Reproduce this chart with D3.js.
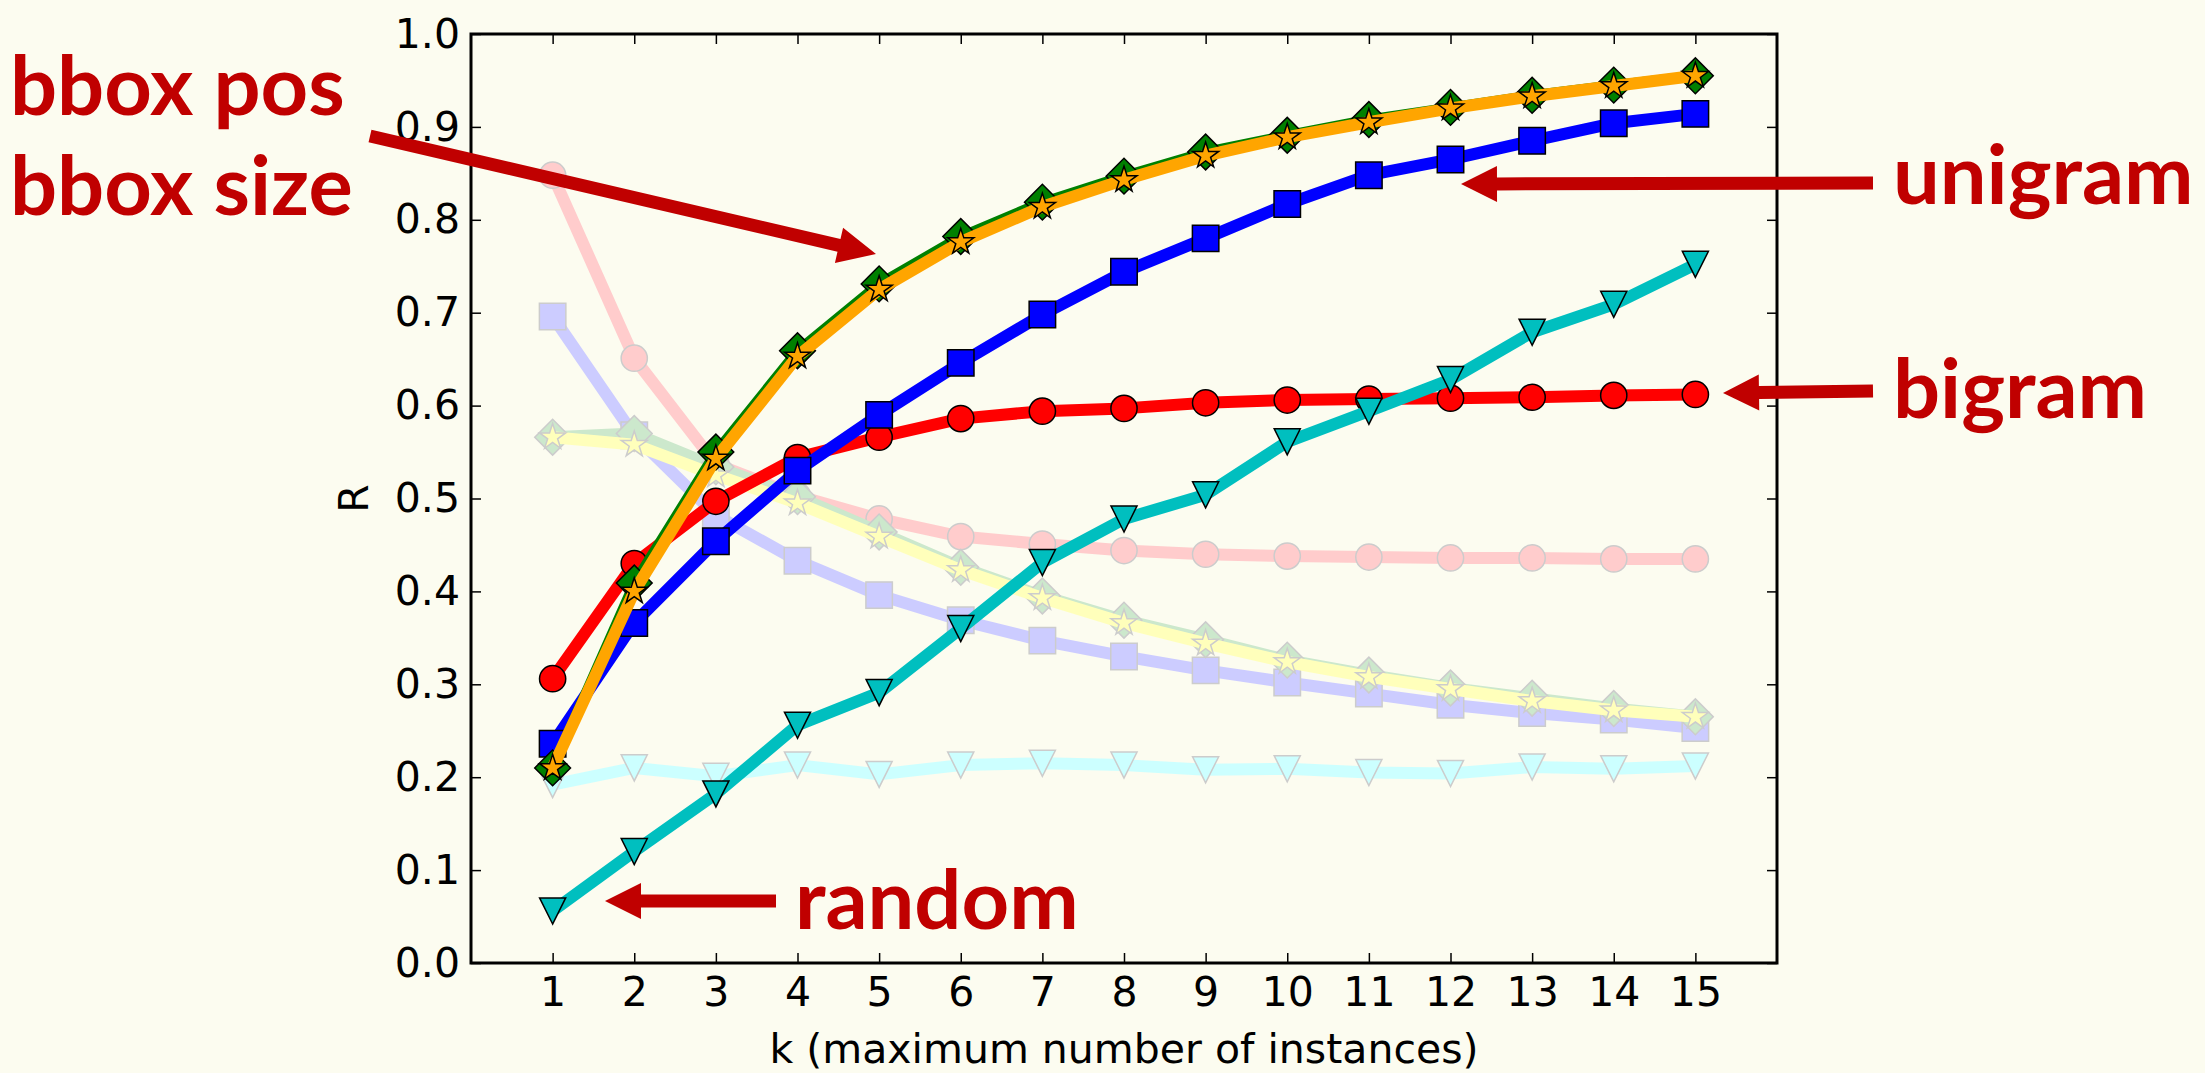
<!DOCTYPE html>
<html>
<head>
<meta charset="utf-8">
<script src="https://cdn.jsdelivr.net/npm/d3@7"></script>
<style>
  body { margin: 0; background: #fcfcf0; }
  svg { display: block; }
</style>
</head>
<body>
<div id="chart"></div>
<script>
// k values (x axis) and tick values
const ks = [1, 2, 3, 4, 5, 6, 7, 8, 9, 10, 11, 12, 13, 14, 15];
const yTicks = [0, 0.1, 0.2, 0.3, 0.4, 0.5, 0.6, 0.7, 0.8, 0.9, 1.0];

// bright series
const bigram   = [0.306, 0.430, 0.497, 0.544, 0.566, 0.586, 0.594, 0.597, 0.603, 0.606, 0.607, 0.608, 0.609, 0.611, 0.612];
const unigram  = [0.236, 0.366, 0.454, 0.530, 0.590, 0.646, 0.698, 0.744, 0.780, 0.817, 0.848, 0.865, 0.885, 0.904, 0.914];
const random   = [0.056, 0.120, 0.182, 0.256, 0.291, 0.360, 0.431, 0.478, 0.504, 0.561, 0.594, 0.628, 0.679, 0.709, 0.752];
const bboxPos  = [0.210, 0.409, 0.550, 0.659, 0.731, 0.782, 0.819, 0.847, 0.873, 0.891, 0.908, 0.921, 0.934, 0.945, 0.955];
const bboxSize = [0.210, 0.400, 0.543, 0.653, 0.725, 0.776, 0.814, 0.843, 0.869, 0.889, 0.905, 0.920, 0.933, 0.944, 0.955];

// faded series
const bigramFaded   = [0.848, 0.651, 0.537, 0.503, 0.478, 0.459, 0.451, 0.444, 0.440, 0.438, 0.437, 0.436, 0.436, 0.435, 0.435];
const unigramFaded  = [0.696, 0.568, 0.482, 0.433, 0.396, 0.369, 0.347, 0.330, 0.315, 0.302, 0.290, 0.278, 0.269, 0.262, 0.253];
const randomFaded   = [0.192, 0.210, 0.201, 0.213, 0.203, 0.213, 0.215, 0.213, 0.208, 0.209, 0.205, 0.204, 0.211, 0.209, 0.212];
const bboxPosFaded  = [0.566, 0.570, 0.534, 0.502, 0.464, 0.426, 0.395, 0.369, 0.348, 0.326, 0.310, 0.296, 0.285, 0.274, 0.265];
const bboxSizeFaded = [0.566, 0.558, 0.525, 0.495, 0.459, 0.423, 0.393, 0.366, 0.344, 0.324, 0.308, 0.295, 0.282, 0.272, 0.265];

const width = 2205, height = 1073;
const plot = {left: 471, right: 1777, top: 34, bottom: 963};

const svg = d3.select('#chart').append('svg')
    .attr('width', width)
    .attr('height', height);

svg.append('rect')
    .attr('width', width)
    .attr('height', height)
    .attr('fill', '#fcfcf0');

const x = d3.scaleLinear().domain([0, 16]).range([plot.left, plot.right]);
const y = d3.scaleLinear().domain([0, 1]).range([plot.bottom, plot.top]);

// matplotlib-like triangle pointing down
const triDown = {
    draw(context, size) {
        const r = Math.sqrt(size) / 2;
        context.moveTo(0, r);
        context.lineTo(-r, -r);
        context.lineTo(r, -r);
        context.closePath();
    }
};

const markers = {
    circle:  {type: d3.symbolCircle, size: 540, rotate: 0},
    square:  {type: d3.symbolSquare, size: 700, rotate: 0},
    tri:     {type: triDown, size: 680, rotate: 0},
    diamond: {type: d3.symbolSquare, size: 640, rotate: 45},
    star:    {type: d3.symbolStar, size: 210, rotate: 0}
};

// faded lines are drawn in opaque pale tints, so overlaps do not blend
const series = [
    {values: bigramFaded,   color: '#ffcccc', edge: '#cccccc', marker: 'circle',  lw: 12},
    {values: unigramFaded,  color: '#ccccff', edge: '#cccccc', marker: 'square',  lw: 12},
    {values: randomFaded,   color: '#ccffff', edge: '#cccccc', marker: 'tri',     lw: 12},
    {values: bboxPosFaded,  color: '#cce8cc', edge: '#cccccc', marker: 'diamond', lw: 12},
    {values: bboxSizeFaded, color: '#ffffbb', edge: '#cccccc', marker: 'star',    lw: 12},
    {values: bigram,   color: '#ff0000', edge: '#000', marker: 'circle',  lw: 12},
    {values: unigram,  color: '#0000ff', edge: '#000', marker: 'square',  lw: 12},
    {values: random,   color: '#00bfbf', edge: '#000', marker: 'tri',     lw: 12},
    {values: bboxPos,  color: '#008000', edge: '#000', marker: 'diamond', lw: 10},
    {values: bboxSize, color: '#ffa500', edge: '#000', marker: 'star',    lw: 12}
];

const line = d3.line()
    .x((d, i) => x(ks[i]))
    .y(d => y(d));

series.forEach(s => {
    const g = svg.append('g');
    g.append('path')
        .attr('d', line(s.values))
        .attr('fill', 'none')
        .attr('stroke', s.color)
        .attr('stroke-width', s.lw)
        .attr('stroke-linejoin', 'round');

    const m = markers[s.marker];
    g.selectAll('path.marker')
        .data(s.values)
        .join('path')
        .attr('class', 'marker')
        .attr('d', d3.symbol().type(m.type).size(m.size))
        .attr('transform', (d, i) => 'translate(' + x(ks[i]) + ',' + y(d) + ') rotate(' + m.rotate + ')')
        .attr('fill', s.color)
        .attr('stroke', s.edge)
        .attr('stroke-width', 1.5);
});

// axes, ticks point inward on all four sides
const tickFont = "'DejaVu Sans', sans-serif";

const xAxis = svg.append('g')
    .attr('transform', 'translate(0,' + plot.bottom + ')')
    .call(d3.axisBottom(x).tickValues(ks).tickSizeInner(-10).tickSizeOuter(0).tickPadding(14));

const xAxisTop = svg.append('g')
    .attr('transform', 'translate(0,' + plot.top + ')')
    .call(d3.axisTop(x).tickValues(ks).tickSizeInner(-10).tickSizeOuter(0).tickFormat(''));

const yAxis = svg.append('g')
    .attr('transform', 'translate(' + plot.left + ',0)')
    .call(d3.axisLeft(y).tickValues(yTicks).tickFormat(d3.format('.1f')).tickSizeInner(-10).tickSizeOuter(0).tickPadding(11));

const yAxisRight = svg.append('g')
    .attr('transform', 'translate(' + plot.right + ',0)')
    .call(d3.axisRight(y).tickValues(yTicks).tickSizeInner(-10).tickSizeOuter(0).tickFormat(''));

[xAxis, xAxisTop, yAxis, yAxisRight].forEach(a => {
    a.select('.domain').remove();
    a.selectAll('.tick line').attr('stroke', '#000').attr('stroke-width', 1.5);
    a.selectAll('.tick text')
        .attr('fill', '#000')
        .style('font-family', tickFont)
        .style('font-size', '41px');
});

// frame
svg.append('rect')
    .attr('x', plot.left)
    .attr('y', plot.top)
    .attr('width', plot.right - plot.left)
    .attr('height', plot.bottom - plot.top)
    .attr('fill', 'none')
    .attr('stroke', '#000')
    .attr('stroke-width', 3);

// axis labels
svg.append('text')
    .attr('x', (plot.left + plot.right) / 2)
    .attr('y', 1063)
    .attr('text-anchor', 'middle')
    .style('font-family', tickFont)
    .style('font-size', '41px')
    .text('k (maximum number of instances)');

svg.append('text')
    .attr('transform', 'translate(368,' + (plot.top + plot.bottom) / 2 + ') rotate(-90)')
    .attr('text-anchor', 'middle')
    .style('font-family', tickFont)
    .style('font-size', '41px')
    .text('R');

// annotations
const annoColor = '#c00000';
const annoFont = "Lato, 'Open Sans', sans-serif";

function arrow(tail, tip, w, headLen, headHalf) {
    const dx = tip[0] - tail[0], dy = tip[1] - tail[1];
    const len = Math.sqrt(dx * dx + dy * dy);
    const ux = dx / len, uy = dy / len;
    const nx = -uy, ny = ux;
    const bx = tip[0] - ux * headLen, by = tip[1] - uy * headLen;
    const pts = [
        [tail[0] + nx * w / 2, tail[1] + ny * w / 2],
        [bx + nx * w / 2, by + ny * w / 2],
        [bx + nx * headHalf, by + ny * headHalf],
        tip,
        [bx - nx * headHalf, by - ny * headHalf],
        [bx - nx * w / 2, by - ny * w / 2],
        [tail[0] - nx * w / 2, tail[1] - ny * w / 2]
    ];
    svg.append('path')
        .attr('d', d3.line()(pts) + 'Z')
        .attr('fill', annoColor);
}

arrow([370, 136], [876, 254], 13, 38, 18);
arrow([1873, 183], [1461, 184], 13, 36, 18);
arrow([1873, 391], [1723, 393], 13, 36, 18);
arrow([776, 901], [605, 901], 13, 36, 18);

const labels = [
    {text: 'bbox pos',  x: 10,   y: 115},
    {text: 'bbox size', x: 10,   y: 215},
    {text: 'unigram',   x: 1893, y: 204},
    {text: 'bigram',    x: 1893, y: 418},
    {text: 'random',    x: 795,  y: 929}
];

svg.selectAll('text.anno')
    .data(labels)
    .join('text')
    .attr('class', 'anno')
    .attr('x', d => d.x)
    .attr('y', d => d.y)
    .attr('fill', annoColor)
    .style('font-family', annoFont)
    .style('font-weight', 'bold')
    .style('font-size', '83px')
    .text(d => d.text);
</script>
</body>
</html>
